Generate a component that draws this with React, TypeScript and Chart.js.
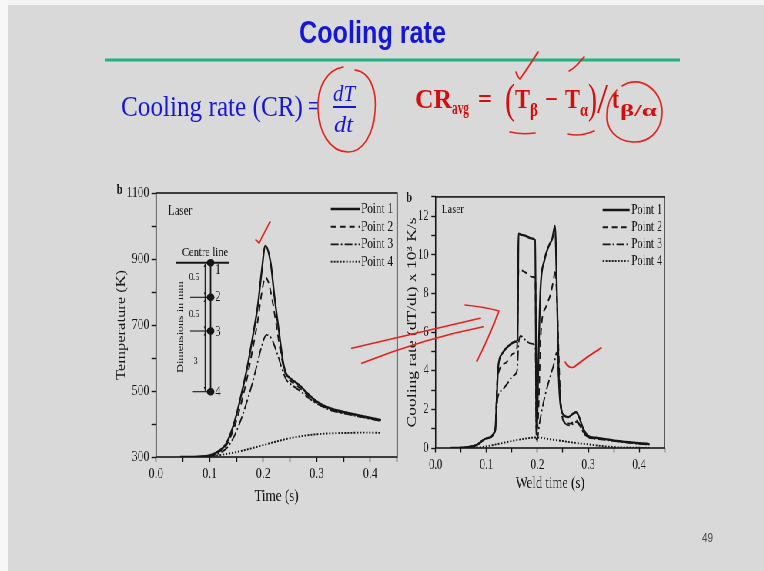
import React, { useEffect, useRef } from 'react';
import { Chart, registerables } from 'chart.js';

Chart.register(...registerables);

// ---------- data ----------
const seriesNames = ['Point 1', 'Point 2', 'Point 3', 'Point 4'];
const timeTickLabels = ['0.0', '0.1', '0.2', '0.3', '0.4'];
const tempTickLabels = ['300', '500', '700', '900', '1100'];
const rateTickLabels = ['0', '2', '4', '6', '8', '10', '12'];

// Left panel: temperature (K) vs time (s)
const tempTimeP1 = [0.045, 0.08, 0.10, 0.115, 0.13, 0.14, 0.15, 0.16, 0.17, 0.18, 0.19, 0.197, 0.204, 0.214, 0.221, 0.229, 0.2375, 0.243, 0.25, 0.26, 0.27, 0.28, 0.295, 0.31, 0.33, 0.36, 0.39, 0.42];
const tempP1 = [300, 301, 305, 316, 338, 375, 428, 495, 570, 660, 760, 860, 940, 887, 786, 685, 584, 552, 539, 527, 514, 497, 474, 458, 445, 433, 422, 412];
const tempTimeP2 = [0.045, 0.08, 0.10, 0.115, 0.13, 0.14, 0.15, 0.16, 0.17, 0.18, 0.19, 0.197, 0.204, 0.21, 0.217, 0.225, 0.233, 0.24, 0.247, 0.26, 0.27, 0.28, 0.295, 0.31, 0.33, 0.36, 0.39, 0.42];
const tempP2 = [300, 301, 304, 314, 333, 365, 410, 470, 540, 625, 715, 795, 845, 828, 775, 695, 612, 560, 538, 520, 507, 492, 470, 455, 442, 430, 420, 410];
const tempTimeP3 = [0.045, 0.09, 0.10, 0.115, 0.13, 0.14, 0.15, 0.16, 0.17, 0.18, 0.19, 0.198, 0.206, 0.215, 0.226, 0.236, 0.243, 0.252, 0.265, 0.28, 0.295, 0.31, 0.33, 0.36, 0.39, 0.42];
const tempP3 = [300, 301, 303, 310, 324, 345, 378, 420, 470, 525, 590, 640, 670, 660, 614, 563, 535, 520, 505, 485, 467, 453, 440, 429, 419, 409];
const tempTimeP4 = [0.09, 0.10, 0.12, 0.15, 0.18, 0.20, 0.22, 0.25, 0.27, 0.30, 0.33, 0.36, 0.39, 0.42];
const tempP4 = [300, 302, 306, 315, 327, 336, 345, 357, 363, 369, 372, 373, 374, 373];

// Right panel: cooling rate (x10^3 K/s) vs weld time (s)
const rateTimeP1 = [0.03, 0.06, 0.08, 0.10, 0.117, 0.123, 0.131, 0.144, 0.157, 0.161, 0.163, 0.167, 0.176, 0.188, 0.1955, 0.1985, 0.2022, 0.206, 0.2136, 0.223, 0.2294, 0.2345, 0.239, 0.242, 0.245, 0.252, 0.261, 0.27, 0.276, 0.282, 0.29, 0.30, 0.315, 0.347, 0.378, 0.42];
const rateP1 = [0, 0.03, 0.15, 0.5, 0.92, 4.2, 4.9, 5.3, 5.5, 5.6, 11.1, 11.05, 11.0, 10.85, 10.75, 0.7, 4.7, 8.2, 9.7, 10.5, 10.85, 11.5, 7.3, 3.7, 2.3, 1.7, 1.6, 1.78, 1.85, 1.6, 1.0, 0.62, 0.53, 0.4, 0.3, 0.2];
const rateTimeP2 = [0.03, 0.06, 0.08, 0.10, 0.117, 0.1217, 0.1375, 0.153, 0.16, 0.163, 0.1755, 0.191, 0.196, 0.1984, 0.2009, 0.2072, 0.2167, 0.2262, 0.2326, 0.2351, 0.2389, 0.2433, 0.2471, 0.2548, 0.2643, 0.2757, 0.282, 0.2896, 0.2991, 0.315, 0.347, 0.378, 0.42];
const rateP2 = [0, 0.03, 0.15, 0.5, 0.9, 3.7, 4.4, 4.9, 5.2, 9.25, 9.1, 8.85, 8.8, 1.0, 1.3, 6.1, 7.3, 8.0, 8.85, 9.25, 7.3, 3.7, 1.95, 1.3, 1.26, 1.43, 1.26, 0.88, 0.57, 0.5, 0.41, 0.3, 0.19];
const rateTimeP3 = [0.03, 0.06, 0.08, 0.10, 0.117, 0.122, 0.131, 0.14, 0.153, 0.16, 0.163, 0.167, 0.176, 0.188, 0.196, 0.1984, 0.204, 0.214, 0.223, 0.233, 0.238, 0.242, 0.246, 0.255, 0.264, 0.276, 0.283, 0.292, 0.302, 0.315, 0.347, 0.378, 0.42];
const rateP3 = [0, 0.03, 0.15, 0.5, 0.88, 2.6, 3.0, 3.3, 3.75, 4.0, 5.4, 5.8, 5.6, 5.4, 5.25, 0.3, 1.26, 2.6, 3.5, 4.4, 4.95, 3.7, 2.3, 1.26, 1.17, 1.35, 1.17, 0.74, 0.53, 0.47, 0.38, 0.28, 0.17];
const rateTimeP4 = [0.05, 0.09, 0.125, 0.157, 0.18, 0.195, 0.207, 0.22, 0.233, 0.25, 0.264, 0.28, 0.30, 0.32, 0.34, 0.36, 0.42];
const rateP4 = [0, 0.05, 0.22, 0.4, 0.5, 0.54, 0.53, 0.47, 0.42, 0.36, 0.3, 0.25, 0.19, 0.12, 0.07, 0.04, 0];

// ---------- style ----------
const S = 0.77; // horizontal squeeze of the slide image
const INK = '#161616';
const SERIF = "'Liberation Serif', 'Times New Roman', serif";
const SANS = "'Liberation Sans', Arial, sans-serif";
const BG = '#d9d9d9';
const RED = '#e3231d';
const BLUE = '#1616d6';
const dashes = [[], [7, 5], [10, 3, 2, 3], [2, 2]];
const widths = [2.3, 1.9, 1.8, 1.9];

const pts = (xs: number[], ys: number[]) => xs.map((x, i) => ({ x, y: ys[i] }));

const makeDatasets = (series: [number[], number[]][]) =>
  series.map(([t, v], i) => ({
    label: seriesNames[i],
    data: pts(t, v),
    borderColor: INK,
    backgroundColor: INK,
    borderWidth: widths[i],
    borderDash: dashes[i],
    pointRadius: 0,
    fill: false,
    cubicInterpolationMode: 'monotone' as const,
  }));

const timeLabel = (value: any) => {
  const v = Math.round(Number(value) * 100);
  if (v % 10 !== 0) return '';
  const s = (v / 100).toFixed(1);
  return timeTickLabels.includes(s) ? s : '';
};

type Decor = {
  ox: number; oy: number;
  legendY: number[]; legendX0: number; legendX1: number; legendTextX: number; legendFont: number;
  labels: { text: string; x: number; y: number; size: number; bold?: boolean }[];
  inset?: boolean;
};

function drawInset(ctx: CanvasRenderingContext2D, cx: (x: number) => number, cy: (y: number) => number) {
  ctx.strokeStyle = INK;
  ctx.fillStyle = INK;
  ctx.setLineDash([]);
  const line = (x0: number, y0: number, x1: number, y1: number, w: number) => {
    ctx.lineWidth = w;
    ctx.beginPath();
    ctx.moveTo(cx(x0), cy(y0));
    ctx.lineTo(cx(x1), cy(y1));
    ctx.stroke();
  };
  line(176, 262.7, 229, 262.7, 2);
  line(210.5, 262.7, 210.5, 391.7, 1.8);
  line(205, 264, 205, 391, 1.2);
  line(190, 297.3, 210.5, 297.3, 1.1);
  line(190, 331, 210.5, 331, 1.1);
  line(192, 391.7, 210.5, 391.7, 1.1);
  const arrow = (y: number, dir: number) => {
    ctx.beginPath();
    ctx.moveTo(cx(205), cy(y));
    ctx.lineTo(cx(203.6), cy(y + 3 * dir));
    ctx.lineTo(cx(206.4), cy(y + 3 * dir));
    ctx.closePath();
    ctx.fill();
  };
  arrow(264, 1); arrow(295.5, -1); arrow(299, 1); arrow(329.5, -1); arrow(332.5, 1); arrow(390, -1);
  [262.7, 297.3, 331, 391.7].forEach((y) => {
    ctx.beginPath();
    ctx.ellipse(cx(210.5), cy(y), 3.8 / S, 3.8, 0, 0, Math.PI * 2);
    ctx.fill();
  });
  ctx.textBaseline = 'middle';
  ctx.textAlign = 'left';
  ctx.font = `15px ${SERIF}`;
  [['1', 270], ['2', 297.5], ['3', 332], ['4', 392]].forEach(([t, y]) => {
    ctx.fillText(t as string, cx(215), cy(y as number));
  });
  ctx.textAlign = 'center';
  ctx.font = `10.5px ${SERIF}`;
  ctx.fillText('0.5', cx(194), cy(277.5));
  ctx.fillText('0.5', cx(194), cy(314));
  ctx.fillText('3', cx(195.5), cy(361.5));
  ctx.font = `13.5px ${SERIF}`;
  ctx.fillText('Centre line', cx(205), cy(252.5));
  ctx.save();
  ctx.translate(cx(181), cy(327));
  ctx.rotate(-Math.PI / 2);
  ctx.font = `12px ${SERIF}`;
  ctx.fillText('Dimensions in mm', 0, 0);
  ctx.restore();
}

const makeDecor = (d: Decor) => ({
  id: 'decor',
  afterDraw(chart: any) {
    const ctx: CanvasRenderingContext2D = chart.ctx;
    const a = chart.chartArea;
    const cx = (x: number) => (x - d.ox) / S;
    const cy = (y: number) => y - d.oy;
    ctx.save();
    ctx.strokeStyle = INK;
    ctx.lineWidth = 1.6;
    ctx.setLineDash([]);
    ctx.strokeRect(a.left, a.top, a.right - a.left, a.bottom - a.top);
    chart.data.datasets.forEach((ds: any, i: number) => {
      const y = cy(d.legendY[i]);
      ctx.beginPath();
      ctx.setLineDash(ds.borderDash || []);
      ctx.lineWidth = ds.borderWidth;
      ctx.moveTo(cx(d.legendX0), y);
      ctx.lineTo(cx(d.legendX1), y);
      ctx.stroke();
      ctx.setLineDash([]);
      ctx.font = `${d.legendFont}px ${SERIF}`;
      ctx.fillStyle = INK;
      ctx.textBaseline = 'middle';
      ctx.textAlign = 'left';
      ctx.fillText(ds.label, cx(d.legendTextX), y);
    });
    d.labels.forEach((l) => {
      ctx.font = `${l.bold ? 'bold ' : ''}${l.size}px ${SERIF}`;
      ctx.fillStyle = INK;
      ctx.textBaseline = 'middle';
      ctx.textAlign = 'left';
      ctx.fillText(l.text, cx(l.x), cy(l.y));
    });
    if (d.inset) drawInset(ctx, cx, cy);
    ctx.restore();
  },
});

// canvas boxes in screen px
const LEFT_BOX = { x: 100, y: 180, w: 310, h: 330 };
const RIGHT_BOX = { x: 400, y: 185, w: 275, h: 320 };

function axisCommon(tickLen: number, pad: number, size: number) {
  return {
    grid: { display: true, drawOnChartArea: false, drawTicks: true, tickLength: tickLen, tickColor: INK, tickWidth: 1.4 },
    border: { display: false },
    ticks: { font: { family: SERIF, size }, color: INK, padding: pad, autoSkip: false, maxRotation: 0 },
  };
}

export default function App() {
  const leftRef = useRef<HTMLCanvasElement>(null);
  const rightRef = useRef<HTMLCanvasElement>(null);

  useEffect(() => {
    const lw = Math.round(LEFT_BOX.w / S);
    const rw = Math.round(RIGHT_BOX.w / S);

    const lx = axisCommon(5, 3.2, 15);
    const ly = axisCommon(6, 3, 15);
    const left = new Chart(leftRef.current as HTMLCanvasElement, {
      type: 'line',
      data: {
        datasets: makeDatasets([
          [tempTimeP1, tempP1], [tempTimeP2, tempP2], [tempTimeP3, tempP3], [tempTimeP4, tempP4],
        ]) as any,
      },
      options: {
        animation: false,
        responsive: false,
        devicePixelRatio: 1,
        layout: { padding: { top: 13, right: lw - (397 - LEFT_BOX.x) / S, left: 0, bottom: 0 } },
        plugins: { legend: { display: false }, tooltip: { enabled: false } },
        scales: {
          x: {
            type: 'linear', min: 0, max: 0.45,
            afterFit: (s: any) => { s.height = 53; },
            ...lx,
            ticks: { ...lx.ticks, stepSize: 0.05, callback: timeLabel },
            title: { display: true, text: 'Time (s)', color: INK, font: { family: SERIF, size: 17 }, padding: { top: 0, bottom: 2.8 } },
          },
          y: {
            type: 'linear', min: 300, max: 1100,
            afterFit: (s: any) => { s.width = (156 - LEFT_BOX.x) / S; },
            ...ly,
            ticks: { ...ly.ticks, stepSize: 100, callback: (v: any) => (tempTickLabels.includes(String(v)) ? String(v) : '') },
            title: { display: true, text: 'Temperature (K)', color: INK, font: { family: SERIF, size: 16.5 }, padding: { top: 17.4, bottom: 0 } },
          },
        },
      } as any,
      plugins: [makeDecor({
        ox: LEFT_BOX.x, oy: LEFT_BOX.y,
        legendY: [209, 226.7, 244.3, 261.7], legendX0: 330.7, legendX1: 360, legendTextX: 361, legendFont: 14.5,
        labels: [
          { text: 'Laser', x: 168, y: 211, size: 14 },
          { text: 'b', x: 116.5, y: 190, size: 14, bold: true },
        ],
        inset: true,
      }) as any],
    });

    const rx = axisCommon(4.5, 4, 14);
    const ry = axisCommon(5.5, 3.5, 14);
    const right = new Chart(rightRef.current as HTMLCanvasElement, {
      type: 'line',
      data: {
        datasets: makeDatasets([
          [rateTimeP1, rateP1], [rateTimeP2, rateP2], [rateTimeP3, rateP3], [rateTimeP4, rateP4],
        ]) as any,
      },
      options: {
        animation: false,
        responsive: false,
        devicePixelRatio: 1,
        layout: { padding: { top: 10, right: rw - (665 - RIGHT_BOX.x) / S, left: 0, bottom: 0 } },
        plugins: { legend: { display: false }, tooltip: { enabled: false } },
        scales: {
          x: {
            type: 'linear', min: 0, max: 0.45,
            afterFit: (s: any) => { s.height = 57; },
            ...rx,
            ticks: { ...rx.ticks, stepSize: 0.05, callback: timeLabel },
            title: { display: true, text: 'Weld time (s)', color: INK, font: { family: SERIF, size: 16.5 }, padding: { top: 0, bottom: 11 } },
          },
          y: {
            type: 'linear', min: 0, max: 13,
            afterFit: (s: any) => { s.width = (436 - RIGHT_BOX.x) / S; },
            ...ry,
            ticks: { ...ry.ticks, stepSize: 1, callback: (v: any) => (rateTickLabels.includes(String(v)) ? String(v) : '') },
            title: { display: true, text: 'Cooling rate (dT/dt) x 10³ K/s', color: INK, font: { family: SERIF, size: 17.5 }, padding: { top: 6.4, bottom: 0 } },
          },
        },
      } as any,
      plugins: [makeDecor({
        ox: RIGHT_BOX.x, oy: RIGHT_BOX.y,
        legendY: [210, 227.3, 244.3, 261], legendX0: 603, legendX1: 630, legendTextX: 631.7, legendFont: 14,
        labels: [
          { text: 'Laser', x: 442, y: 210, size: 13 },
          { text: 'b', x: 406.5, y: 198, size: 14, bold: true },
        ],
      }) as any],
    });

    return () => {
      left.destroy();
      right.destroy();
    };
  }, []);

  const lw = Math.round(LEFT_BOX.w / S);
  const rw = Math.round(RIGHT_BOX.w / S);

  return (
    <div style={{ position: 'absolute', left: 0, top: 0, width: 764, height: 571, background: BG, overflow: 'hidden' }}>
      <div style={{ position: 'absolute', left: 0, top: 0, width: 764, height: 5, background: '#f4f4f4' }} />
      <div style={{ position: 'absolute', left: 0, top: 0, width: 8, height: 571, background: '#f7f7f7' }} />
      <div style={{ position: 'absolute', left: 0, top: 0, width: 764 / S, height: 571, transform: `scaleX(${S})`, transformOrigin: '0 0' }}>
        <canvas ref={leftRef} width={lw} height={LEFT_BOX.h}
          style={{ position: 'absolute', left: LEFT_BOX.x / S, top: LEFT_BOX.y, width: lw, height: LEFT_BOX.h }} />
        <canvas ref={rightRef} width={rw} height={RIGHT_BOX.h}
          style={{ position: 'absolute', left: RIGHT_BOX.x / S, top: RIGHT_BOX.y, width: rw, height: RIGHT_BOX.h }} />
      </div>
      <svg width={764} height={571} style={{ position: 'absolute', left: 0, top: 0 }}>
        <text x={299} y={43} fontFamily={SANS} fontWeight="bold" fontSize={32} fill={BLUE} textLength={147} lengthAdjust="spacingAndGlyphs">Cooling rate</text>
        <line x1={105} y1={60} x2={680} y2={60} stroke="#21b183" strokeWidth={3} />

        <text x={121} y={116} fontFamily={SERIF} fontSize={30} fill={BLUE} textLength={182} lengthAdjust="spacingAndGlyphs">Cooling rate (CR)</text>
        <text x={308} y={116} fontFamily={SERIF} fontSize={30} fill={BLUE} textLength={11} lengthAdjust="spacingAndGlyphs">=</text>
        <text x={333} y={101} fontFamily={SERIF} fontStyle="italic" fontSize={23} fill={BLUE} textLength={22} lengthAdjust="spacingAndGlyphs">dT</text>
        <rect x={333} y={106} width={23} height={2} fill={BLUE} />
        <text x={334} y={132} fontFamily={SERIF} fontStyle="italic" fontSize={23} fill={BLUE} textLength={19} lengthAdjust="spacingAndGlyphs">dt</text>

        <g fontFamily={SERIF} fill="#d40e0e" fontWeight="bold">
          <text x={415} y={108} fontSize={27} textLength={37} lengthAdjust="spacingAndGlyphs">CR</text>
          <text x={452} y={114} fontSize={18} textLength={17} lengthAdjust="spacingAndGlyphs">avg</text>
          <text x={478} y={108} fontSize={27} textLength={14} lengthAdjust="spacingAndGlyphs">=</text>
          <text x={505} y={113} fontSize={42} fontWeight="normal" textLength={10} lengthAdjust="spacingAndGlyphs">(</text>
          <text x={515} y={108} fontSize={27} textLength={15} lengthAdjust="spacingAndGlyphs">T</text>
          <text x={530} y={116} fontSize={18} textLength={8} lengthAdjust="spacingAndGlyphs">β</text>
          <text x={545} y={108} fontSize={27} textLength={13} lengthAdjust="spacingAndGlyphs">−</text>
          <text x={565} y={108} fontSize={27} textLength={15} lengthAdjust="spacingAndGlyphs">T</text>
          <text x={580} y={116} fontSize={18} textLength={8} lengthAdjust="spacingAndGlyphs">α</text>
          <text x={588} y={113} fontSize={42} fontWeight="normal" textLength={9} lengthAdjust="spacingAndGlyphs">)</text>
          <text x={597} y={113} fontSize={42} fontWeight="normal" textLength={11} lengthAdjust="spacingAndGlyphs">/</text>
          <text x={612} y={108} fontSize={27} textLength={7} lengthAdjust="spacingAndGlyphs">t</text>
          <text x={620} y={116} fontSize={17} textLength={37} lengthAdjust="spacingAndGlyphs">β/α</text>
        </g>

        <g fill="none" stroke={RED} strokeWidth={1.6} strokeLinecap="round" strokeLinejoin="round">
          <path d="M355 70 C372 72 377 95 375 112 C373 135 363 152 348 152 C330 152 319 132 318 110 C317 88 326 70 343 67" />
          <path d="M516 72 Q518 78 520 79 Q528 68 538 52" />
          <path d="M569 71 Q573 69 577 65 L584 57" />
          <path d="M510 132 Q522 135 535 133" />
          <path d="M568 134 Q580 137 594 131" />
          <path d="M622 86 C640 74 662 90 662 112 C662 132 648 143 633 142 C615 141 606 128 607 115 C607 105 611 96 617 90" />
          <path d="M256 240 L259 243 L270 222" />
          <path d="M351.7 348.3 L480 318.3" />
          <path d="M361.7 363.3 Q424 338.4 483.3 326.7" />
          <path d="M465 305 Q485 307 499 311 Q490 335 477 361" />
          <path d="M565 362 Q569 369 574 367 Q588 356 601 348" />
        </g>

        <text x={702} y={542} fontFamily={SANS} fontSize={12.5} fill="#444" textLength={11} lengthAdjust="spacingAndGlyphs">49</text>
      </svg>
    </div>
  );
}
